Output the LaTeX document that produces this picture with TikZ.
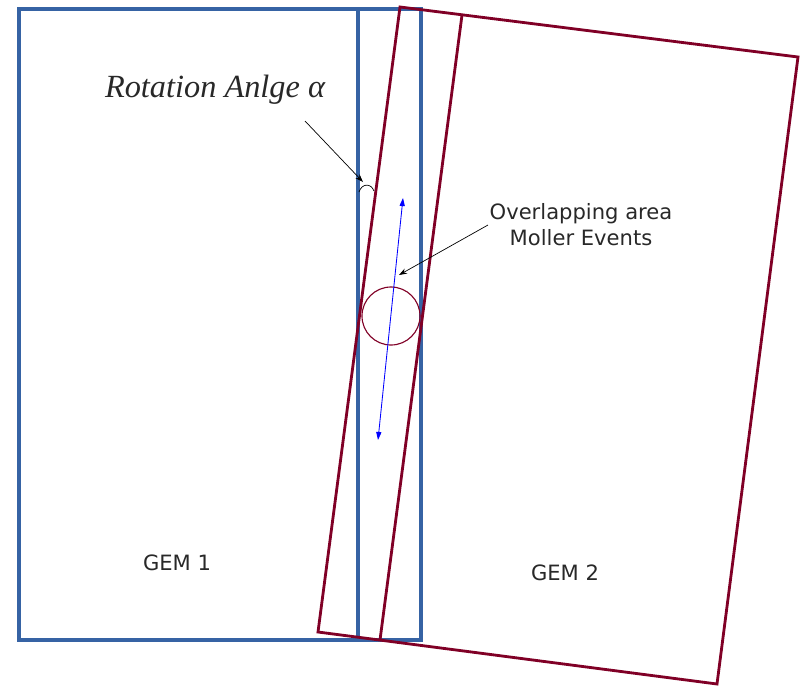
\documentclass[tikz,border=0pt]{standalone}
\usepackage{fontspec}
\setsansfont{DejaVu Sans}
\newfontfamily\labelserif{Liberation Serif}
\usetikzlibrary{arrows.meta}

\definecolor{gemblue}{RGB}{54,99,164}
\definecolor{gemred}{RGB}{128,0,38}
\definecolor{labgray}{RGB}{40,40,40}

\begin{document}
\begin{tikzpicture}[
  x=0.025cm, y=-0.025cm,
  >={Stealth[length=2mm, width=1.4mm]},
  every node/.style={font=\sffamily\fontsize{15}{18.4}\selectfont}
]
\tikzset{
  gemone/.style ={draw=gemblue, line width=2.8pt},
  gemtwo/.style ={draw=gemred, line width=2pt, line join=miter},
  lab/.style    ={text=labgray, inner sep=1pt},
  rotlab/.style ={lab, font=\labelserif\itshape\fontsize{23}{27}\selectfont},
  spot/.style   ={circle, draw=gemred, line width=0.8pt, inner sep=0pt,
                  minimum size=1.45cm},
  beam/.style   ={draw=blue, line width=0.6pt,
                  {Triangle[length=2mm, width=1.3mm]}-{Triangle[length=2mm, width=1.3mm]}},
  arr/.style    ={->, line width=0.5pt, black}
}
\useasboundingbox (0,0) rectangle (803,685);

%% ----- GEM 1 (blue frame) -----
\draw[gemone] (19,9) rectangle (421,640);
\draw[gemone] (358,9) -- (358,640);

%% ----- GEM 2 (rotated red frame) -----
\coordinate (tl) at (400,7);
\coordinate (tr) at (798,57);
\coordinate (br) at (717,684);
\coordinate (bl) at (318,632);
\draw[gemtwo] (tl) -- (tr) -- (br) -- (bl) -- cycle;
\draw[gemtwo] (462,15) -- (380,640);

%% ----- overlap spot and beam -----
\node[spot] (spot) at (391,316) {};
\coordinate (beamlow) at (378,440);
\coordinate (beamhigh) at (403,198);
\draw[beam] (beamlow) -- (beamhigh);

%% ----- labels -----
\node[lab] (gem1) at (177,563) {GEM 1};
\node[lab] (gem2) at (565,573) {GEM 2};
\node[lab, align=center] (overlap) at (581,225)
  {Overlapping area\\Moller Events};
\node[rotlab] (rot) at (215,90) {Rotation Anlge α};

%% ----- pointers -----
\coordinate (mollertip) at (399,275);
\draw[arr] (overlap.west) -- (mollertip);
\coordinate (rottail) at (305,121);
\coordinate (rottip) at (363,182);
\draw[arr] (rottail) -- (rottip);
\draw[line width=0.5pt] (359,192) .. controls (362,183) and (371,183) .. (374,191);

\end{tikzpicture}
\end{document}
